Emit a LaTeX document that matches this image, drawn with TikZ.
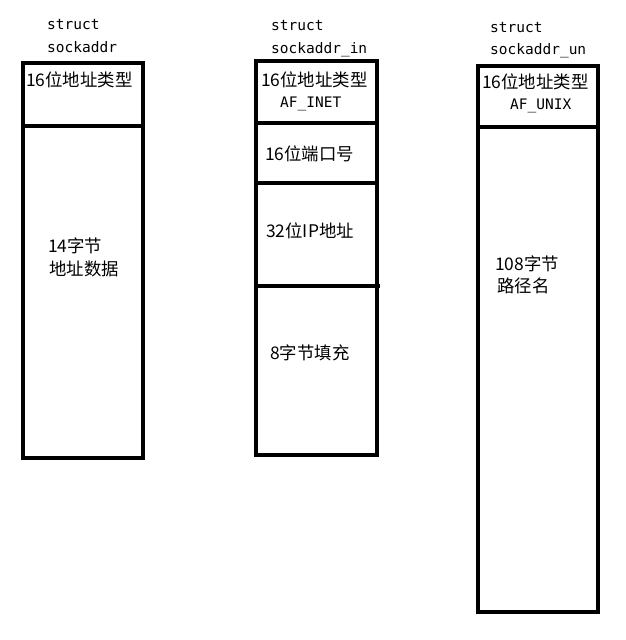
\documentclass[tikz,border=0pt]{standalone}
\usepackage{fontspec}
\newfontfamily\cjkfont{Noto Sans CJK SC}
\newfontfamily\monofont{DejaVu Sans Mono}
\begin{document}
\begin{tikzpicture}[x=1pt,y=-1pt,
  cell/.style={draw, line width=3.2pt, inner sep=0pt, outer sep=0pt, anchor=north west},
  cjk/.style={inner sep=0pt, anchor=west, font=\cjkfont\fontsize{17.4}{20}\selectfont},
  mono/.style={inner sep=0pt, anchor=base west, font=\monofont\fontsize{14.5}{18}\selectfont}]
\useasboundingbox (0,0) rectangle (625,640);
% struct sockaddr
\node[mono] (t1a) at (47,29) {struct};
\node[mono] (t1b) at (47,52) {sockaddr};
\node[cell, minimum width=120pt, minimum height=63pt] (a1) at (23,63) {};
\node[cell, minimum width=120pt, minimum height=332pt] (a2) at (23,126) {};
\node[cjk] (a1t) at (26,80) {16位地址类型};
\node[cjk] (a2t) at (48,246) {14字节};
\node[cjk] (a2u) at (49,269) {地址数据};
% struct sockaddr_in
\node[mono] (t2a) at (271,30) {struct};
\node[mono] (t2b) at (271,53) {sockaddr\_in};
\node[cell, minimum width=121pt, minimum height=62pt] (b1) at (256,61) {};
\node[cell, minimum width=121pt, minimum height=60pt] (b2) at (256,123) {};
\node[cell, minimum width=121pt, minimum height=103pt] (b3) at (256,183) {};
\node[cell, minimum width=121pt, minimum height=169pt] (b4) at (256,286) {};
\draw[line width=3.2pt] (b4.north east) -- ++(3,0);
\node[cjk] (b1t) at (261,80) {16位地址类型};
\node[mono] (b1u) at (280,107) {AF\_INET};
\node[cjk] (b2t) at (265,154) {16位端口号};
\node[cjk] (b3t) at (266,231) {32位IP地址};
\node[cjk] (b4t) at (270,353) {8字节填充};
% struct sockaddr_un
\node[mono] (t3a) at (490,32) {struct};
\node[mono] (t3b) at (490,54) {sockaddr\_un};
\node[cell, minimum width=120pt, minimum height=61pt] (c1) at (478,66) {};
\node[cell, minimum width=120pt, minimum height=485pt] (c2) at (478,127) {};
\node[cjk] (c1t) at (482,82) {16位地址类型};
\node[mono] (c1u) at (510,109) {AF\_UNIX};
\node[cjk] (c2t) at (495,264) {108字节};
\node[cjk] (c2u) at (497,286) {路径名};
\end{tikzpicture}
\end{document}
